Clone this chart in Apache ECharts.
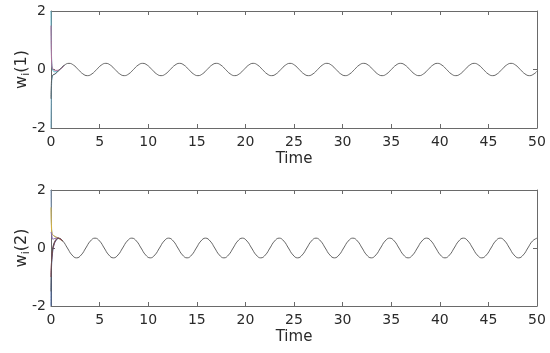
<!DOCTYPE html>
<html>
<head>
<meta charset="utf-8">
<script src="https://cdn.jsdelivr.net/npm/echarts@6/dist/echarts.min.js"></script>
<style>html,body{margin:0;padding:0;background:#fff;}#c{width:550px;height:353px;}</style>
</head>
<body>
<div id="c"></div>
<script>
// ---- data ----
const xTicks = [0, 5, 10, 15, 20, 25, 30, 35, 40, 45, 50];
const yTicks = [-2, 0, 2];

// top panel w_i(1): consensus trajectory (black)
const topTime = [0, 0.03, 0.08, 0.15, 0.431, 0.904, 1.378,
  1.852, 2.326, 2.800, 3.273, 3.747, 4.221, 4.695, 5.168,
  5.642, 6.116, 6.590, 7.063, 7.537, 8.011, 8.485, 8.958,
  9.432, 9.906, 10.380, 10.853, 11.327, 11.801, 12.275, 12.748,
  13.222, 13.696, 14.170, 14.643, 15.117, 15.591, 16.065, 16.538,
  17.012, 17.486, 17.960, 18.433, 18.907, 19.381, 19.855, 20.328,
  20.802, 21.276, 21.750, 22.223, 22.697, 23.171, 23.645, 24.118,
  24.592, 25.066, 25.540, 26.013, 26.487, 26.961, 27.435, 27.908,
  28.382, 28.856, 29.330, 29.803, 30.277, 30.751, 31.225, 31.698,
  32.172, 32.646, 33.120, 33.593, 34.067, 34.541, 35.015, 35.488,
  35.962, 36.436, 36.910, 37.383, 37.857, 38.331, 38.805, 39.278,
  39.752, 40.226, 40.700, 41.173, 41.647, 42.121, 42.595, 43.068,
  43.542, 44.016, 44.490, 44.963, 45.437, 45.911, 46.385, 46.858,
  47.332, 47.806, 48.280, 48.753, 49.227, 49.701, 50];
const topWave = [-1.0, -0.55, -0.3, -0.2, -0.148, 0, 0.148,
  0.21, 0.148, 0, -0.148, -0.21, -0.148, 0, 0.148,
  0.21, 0.148, 0, -0.148, -0.21, -0.148, 0, 0.148,
  0.21, 0.148, 0, -0.148, -0.21, -0.148, 0, 0.148,
  0.21, 0.148, 0, -0.148, -0.21, -0.148, 0, 0.148,
  0.21, 0.148, 0, -0.148, -0.21, -0.148, 0, 0.148,
  0.21, 0.148, 0, -0.148, -0.21, -0.148, 0, 0.148,
  0.21, 0.148, 0, -0.148, -0.21, -0.148, 0, 0.148,
  0.21, 0.148, 0, -0.148, -0.21, -0.148, 0, 0.148,
  0.21, 0.148, 0, -0.148, -0.21, -0.148, 0, 0.148,
  0.21, 0.148, 0, -0.148, -0.21, -0.148, 0, 0.148,
  0.21, 0.148, 0, -0.148, -0.21, -0.148, 0, 0.148,
  0.21, 0.148, 0, -0.148, -0.21, -0.148, 0, 0.148,
  0.21, 0.148, 0, -0.148, -0.21, -0.148, -0.06];

// top panel: other agents (initial transient only)
const topAgentA_t = [0, 0.02, 0.06, 0.15, 0.4, 0.904, 1.378];
const topAgentA_v = [2.0, 1.2, 0.4, 0.02, -0.08, 0, 0.148];
const topAgentB_t = [0, 0.03, 0.08, 0.2, 0.5, 0.904, 1.378];
const topAgentB_v = [1.5, 0.7, 0.2, 0.02, -0.03, 0, 0.148];
const topAgentC_t = [0, 0.02, 0.06, 0.15, 0.431, 0.904];
const topAgentC_v = [-2.0, -1.2, -0.5, -0.22, -0.148, 0];

// bottom panel w_i(2): consensus trajectory (black)
const botTime = [0, 0.03, 0.08, 0.18, 0.35, 0.55,
  0.737, 1.211, 1.685, 2.158, 2.632, 3.106, 3.580, 4.053,
  4.527, 5.001, 5.475, 5.948, 6.422, 6.896, 7.370, 7.843,
  8.317, 8.791, 9.265, 9.738, 10.212, 10.686, 11.160, 11.633,
  12.107, 12.581, 13.055, 13.528, 14.002, 14.476, 14.950, 15.423,
  15.897, 16.371, 16.845, 17.318, 17.792, 18.266, 18.740, 19.213,
  19.687, 20.161, 20.635, 21.108, 21.582, 22.056, 22.530, 23.003,
  23.477, 23.951, 24.425, 24.898, 25.372, 25.846, 26.320, 26.793,
  27.267, 27.741, 28.215, 28.688, 29.162, 29.636, 30.110, 30.583,
  31.057, 31.531, 32.005, 32.478, 32.952, 33.426, 33.900, 34.373,
  34.847, 35.321, 35.795, 36.268, 36.742, 37.216, 37.690, 38.163,
  38.637, 39.111, 39.585, 40.058, 40.532, 41.006, 41.480, 41.953,
  42.427, 42.901, 43.375, 43.848, 44.322, 44.796, 45.270, 45.743,
  46.217, 46.691, 47.165, 47.638, 48.112, 48.586, 49.060, 49.533, 50];
const botWave = [-1.5, -0.8, -0.35, 0.0, 0.2, 0.3,
  0.34, 0.24, 0, -0.24, -0.34, -0.24, 0, 0.24,
  0.34, 0.24, 0, -0.24, -0.34, -0.24, 0, 0.24,
  0.34, 0.24, 0, -0.24, -0.34, -0.24, 0, 0.24,
  0.34, 0.24, 0, -0.24, -0.34, -0.24, 0, 0.24,
  0.34, 0.24, 0, -0.24, -0.34, -0.24, 0, 0.24,
  0.34, 0.24, 0, -0.24, -0.34, -0.24, 0, 0.24,
  0.34, 0.24, 0, -0.24, -0.34, -0.24, 0, 0.24,
  0.34, 0.24, 0, -0.24, -0.34, -0.24, 0, 0.24,
  0.34, 0.24, 0, -0.24, -0.34, -0.24, 0, 0.24,
  0.34, 0.24, 0, -0.24, -0.34, -0.24, 0, 0.24,
  0.34, 0.24, 0, -0.24, -0.34, -0.24, 0, 0.24,
  0.34, 0.24, 0, -0.24, -0.34, -0.24, 0, 0.24,
  0.34, 0.24, 0, -0.24, -0.34, -0.24, 0, 0.24, 0.34];

// bottom panel: other agents (initial transient only)
const botAgentA_t = [0, 0.02, 0.06, 0.12, 0.3, 0.737, 1.211];
const botAgentA_v = [2.0, 1.3, 0.7, 0.5, 0.42, 0.34, 0.24];
const botAgentB_t = [0, 0.03, 0.08, 0.2, 0.5, 0.737, 1.211];
const botAgentB_v = [1.4, 0.9, 0.55, 0.45, 0.38, 0.34, 0.24];
const botAgentC_t = [0, 0.08, 0.2, 0.4, 0.737, 1.211];
const botAgentC_v = [0.55, 0.45, 0.3, 0.33, 0.34, 0.24];
const botAgentD_t = [0, 0.05, 0.15, 0.3, 0.5, 0.737, 1.211];
const botAgentD_v = [-1.0, -0.5, -0.1, 0.12, 0.27, 0.34, 0.24];
const botAgentE_t = [0, 0.02, 0.06, 0.15, 0.3, 0.5, 0.737];
const botAgentE_v = [-2.0, -1.2, -0.6, -0.2, 0.1, 0.25, 0.34];

// ---- chart ----
const zip = (t, v) => t.map((x, i) => [x, v[i]]);
const FONT = 'DejaVu Sans';
const AX = '#6a6a6a';
const TXT = '#2a2a2a';

function xAx(g, pos, labels) {
  return {
    type: 'value', gridIndex: g, position: pos, min: 0, max: 50, interval: 5,
    axisLine: { show: true, onZero: false, lineStyle: { color: AX, width: 1 } },
    axisTick: { show: true, inside: true, length: 4, lineStyle: { color: AX } },
    axisLabel: { show: labels, margin: 7, color: TXT, fontFamily: FONT, fontSize: 14 },
    splitLine: { show: false },
    name: labels ? 'Time' : '', nameLocation: 'middle', nameGap: 24, nameMoveOverlap: false,
    nameTextStyle: { color: TXT, fontFamily: FONT, fontSize: 15 }
  };
}
function yAx(g, pos, labels, idx) {
  return {
    type: 'value', gridIndex: g, position: pos, min: -2, max: 2, interval: 2,
    axisLine: { show: true, onZero: false, lineStyle: { color: AX, width: 1 } },
    axisTick: { show: true, inside: true, length: 4, lineStyle: { color: AX } },
    axisLabel: { show: labels, margin: 5, color: TXT, fontFamily: FONT, fontSize: 14 },
    splitLine: { show: false },
    name: labels ? '{w|w}{s|i}{w|(' + idx + ')}' : '', nameLocation: 'middle', nameGap: 19,
    nameMoveOverlap: false,
    nameTextStyle: {
      color: TXT, fontFamily: FONT, fontSize: 16,
      rich: {
        w: { fontFamily: FONT, fontSize: 16, color: TXT },
        s: { fontFamily: FONT, fontSize: 11, color: TXT, padding: [10, 0, 0, 0] }
      }
    }
  };
}
function line(xi, yi, data, color, z, w) {
  return {
    type: 'line', xAxisIndex: xi, yAxisIndex: yi, data: data, smooth: 0.5,
    showSymbol: false, symbol: 'none', z: z || 2, animation: false,
    lineStyle: { color: color, width: w || 1 }
  };
}

const chart = echarts.init(document.getElementById('c'), null, { renderer: 'canvas' });
chart.setOption({
  animation: false,
  backgroundColor: '#fff',
  grid: [
    { left: 51, right: 13, top: 11, height: 117, outerBoundsMode: 'none', containLabel: false },
    { left: 51, right: 13, top: 190, height: 116, outerBoundsMode: 'none', containLabel: false }
  ],
  xAxis: [xAx(0, 'bottom', true), xAx(0, 'top', false), xAx(1, 'bottom', true), xAx(1, 'top', false)],
  yAxis: [yAx(0, 'left', true, 1), yAx(0, 'right', false, 1), yAx(1, 'left', true, 2), yAx(1, 'right', false, 2)],
  series: [
    line(0, 0, zip(topAgentA_t, topAgentA_v), '#5fb3c9'),
    line(0, 0, zip(topAgentC_t, topAgentC_v), '#6aa6c0'),
    line(0, 0, zip(topAgentB_t, topAgentB_v), '#b86a95'),
    line(0, 0, zip(topTime, topWave), '#555555', 3, 0.9),
    line(2, 2, zip(botAgentA_t, botAgentA_v), '#7f9cc0'),
    line(2, 2, zip(botAgentB_t, botAgentB_v), '#d9b23a'),
    line(2, 2, zip(botAgentC_t, botAgentC_v), '#8a6bb0'),
    line(2, 2, zip(botAgentE_t, botAgentE_v), '#3a5a9a'),
    line(2, 2, zip(botAgentD_t, botAgentD_v), '#a8323e'),
    line(2, 2, zip(botTime, botWave), '#555555', 3, 0.9)
  ]
});
</script>
</body>
</html>
